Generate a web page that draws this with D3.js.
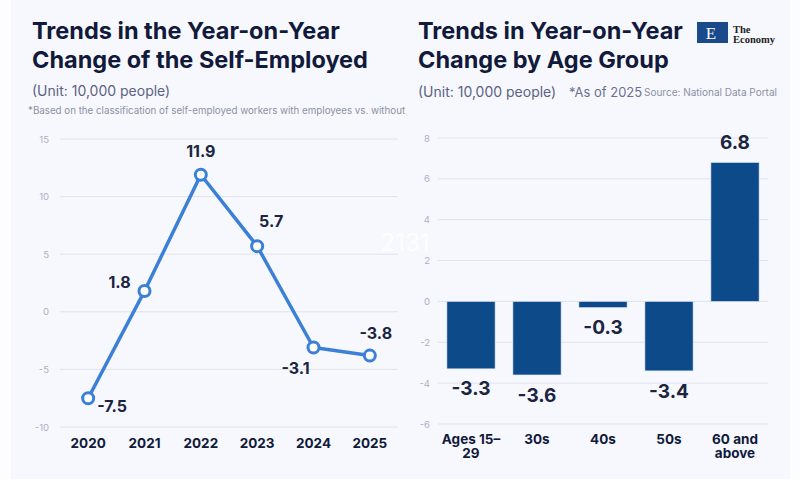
<!DOCTYPE html>
<html>
<head>
<meta charset="utf-8">
<script src="https://cdn.jsdelivr.net/npm/d3@7"></script>
<style>
  body { margin: 0; background: #fdfdff; }
  svg { display: block; font-family: Inter, "Noto Sans", sans-serif; }
</style>
</head>
<body>
<script>
var w = 800;
var h = 479;

// left chart data
var years = ["2020", "2021", "2022", "2023", "2024", "2025"];
var selfEmployed = [-7.5, 1.8, 11.9, 5.7, -3.1, -3.8];
var leftTicks = [-10, -5, 0, 5, 10, 15];
// label nudges (px) so they sit off the line
var lineLabelDx = [24, -25, 0, 14, -18, 6];
var lineLabelDy = [8, -9, -23, -25, 21, -22];

// right chart data
var ageGroups = ["Ages 15–|29", "30s", "40s", "50s", "60 and|above"];
var ageChange = [-3.3, -3.6, -0.3, -3.4, 6.8];
var rightTicks = [-6, -4, -2, 0, 2, 4, 6, 8];

var navy = "#111a3a";
var tickColor = "#a9b1c7";
var gridColor = "#dfe3ee";

var svg = d3.select("body")
            .append("svg")
                .attr("width", w)
                .attr("height", h);

svg.append("rect")
    .attr("x", 11).attr("y", 0)
    .attr("width", 779).attr("height", h)
    .attr("fill", "#f7f8fd");

// ---- titles ----
function addText(x, y, txt, size, weight, color, anchor) {
    return svg.append("text")
        .attr("x", x).attr("y", y)
        .attr("font-size", size)
        .attr("font-weight", weight)
        .attr("fill", color)
        .attr("text-anchor", anchor || "start")
        .text(txt);
}

addText(32, 39, "Trends in the Year-on-Year", 23.5, 700, navy);
addText(32, 68, "Change of the Self-Employed", 23.5, 700, navy);
addText(32, 96, "(Unit: 10,000 people)", 14, 400, "#5b6283");
addText(28, 114, "*Based on the classification of self-employed workers with employees vs. without", 9.75, 400, "#8b90a4");

addText(418, 39, "Trends in Year-on-Year", 23.5, 700, navy);
addText(418, 68, "Change by Age Group", 23.5, 700, navy);
addText(418, 97, "(Unit: 10,000 people)", 14, 400, "#5b6283");
addText(569, 97, "*As of 2025", 13, 400, "#6a7090");
addText(644, 96, "Source: National Data Portal", 10, 400, "#8b90a4");

// logo
svg.append("rect")
    .attr("x", 697).attr("y", 22)
    .attr("width", 31).attr("height", 21)
    .attr("fill", "#1a4a8c");
svg.append("text")
    .attr("x", 711).attr("y", 39)
    .attr("text-anchor", "middle")
    .attr("font-family", "Liberation Serif, serif")
    .attr("font-size", 17)
    .attr("fill", "#ffffff")
    .text("E");
svg.append("text")
    .attr("x", 733).attr("y", 33)
    .attr("font-family", "Liberation Serif, serif")
    .attr("font-size", 10.5).attr("font-weight", 700)
    .attr("fill", "#222")
    .text("The");
svg.append("text")
    .attr("x", 733).attr("y", 43)
    .attr("font-family", "Liberation Serif, serif")
    .attr("font-size", 10.5).attr("font-weight", 700)
    .attr("fill", "#222")
    .text("Economy");

// ---- left: line chart ----
var xL = d3.scaleBand().domain(years).range([60, 398]);
var yL = d3.scaleLinear().domain([-10, 15]).range([427, 139]);

var gL = svg.append("g");

gL.selectAll("line.grid")
    .data(leftTicks)
    .enter()
    .append("line")
        .attr("x1", 60).attr("x2", 398)
        .attr("y1", function(d) {return yL(d);})
        .attr("y2", function(d) {return yL(d);})
        .attr("stroke", gridColor)
        .attr("stroke-width", 1);

gL.selectAll("text.tick")
    .data(leftTicks)
    .enter()
    .append("text")
        .attr("x", 49)
        .attr("y", function(d) {return yL(d) + 3.5;})
        .attr("text-anchor", "end")
        .attr("font-size", 9.5)
        .attr("fill", tickColor)
        .text(function(d) {return d;});

gL.selectAll("text.year")
    .data(years)
    .enter()
    .append("text")
        .attr("x", function(d) {return xL(d) + xL.bandwidth() / 2;})
        .attr("y", 448)
        .attr("text-anchor", "middle")
        .attr("font-size", 13.5)
        .attr("font-weight", 700)
        .attr("fill", navy)
        .text(function(d) {return d;});

var line = d3.line()
    .x(function(d, i) {return xL(years[i]) + xL.bandwidth() / 2;})
    .y(function(d) {return yL(d);});

gL.append("path")
    .datum(selfEmployed)
    .attr("d", line)
    .attr("fill", "none")
    .attr("stroke", "#3b80d6")
    .attr("stroke-width", 3.5)
    .attr("stroke-linejoin", "round");

gL.selectAll("circle")
    .data(selfEmployed)
    .enter()
    .append("circle")
        .attr("cx", function(d, i) {return xL(years[i]) + xL.bandwidth() / 2;})
        .attr("cy", function(d) {return yL(d);})
        .attr("r", 5.5)
        .attr("fill", "#ffffff")
        .attr("stroke", "#3b80d6")
        .attr("stroke-width", 3);

gL.selectAll("text.val")
    .data(selfEmployed)
    .enter()
    .append("text")
        .attr("x", function(d, i) {return xL(years[i]) + xL.bandwidth() / 2 + lineLabelDx[i];})
        .attr("y", function(d, i) {return yL(d) + lineLabelDy[i];})
        .attr("dy", "0.35em")
        .attr("text-anchor", "middle")
        .attr("font-size", 16)
        .attr("font-weight", 700)
        .attr("fill", "#1c2540")
        .text(function(d) {return d.toFixed(1);});

// watermark
svg.append("text")
    .attr("x", 405).attr("y", 251)
    .attr("text-anchor", "middle")
    .attr("font-size", 24)
    .attr("fill", "#ffffff")
    .attr("fill-opacity", 0.85)
    .text("2131");

// ---- right: bar chart ----
var xR = d3.scaleBand().domain(ageGroups).range([438, 768]).paddingInner(0.27).paddingOuter(0.135);
var yR = d3.scaleLinear().domain([-6, 8]).range([424, 138]);

var gR = svg.append("g");

gR.selectAll("line.grid")
    .data(rightTicks)
    .enter()
    .append("line")
        .attr("x1", 438).attr("x2", 768)
        .attr("y1", function(d) {return yR(d);})
        .attr("y2", function(d) {return yR(d);})
        .attr("stroke", gridColor)
        .attr("stroke-width", 1);

gR.selectAll("text.tick")
    .data(rightTicks)
    .enter()
    .append("text")
        .attr("x", 430)
        .attr("y", function(d) {return yR(d) + 3.5;})
        .attr("text-anchor", "end")
        .attr("font-size", 9.5)
        .attr("fill", tickColor)
        .text(function(d) {return d;});

gR.selectAll("rect")
    .data(ageChange)
    .enter()
    .append("rect")
        .attr("x", function(d, i) {return xR(ageGroups[i]);})
        .attr("y", function(d) {return yR(Math.max(0, d));})
        .attr("width", xR.bandwidth())
        .attr("height", function(d) {return Math.abs(yR(d) - yR(0));})
        .attr("fill", "#0d4a8a")
        .attr("stroke", "#dbe4f2")
        .attr("stroke-width", 0.6);

gR.selectAll("text.val")
    .data(ageChange)
    .enter()
    .append("text")
        .attr("x", function(d, i) {return xR(ageGroups[i]) + xR.bandwidth() / 2;})
        .attr("y", function(d) {return d < 0 ? yR(d) + 20 : yR(d) - 20;})
        .attr("dy", "0.35em")
        .attr("text-anchor", "middle")
        .attr("font-size", 19)
        .attr("font-weight", 700)
        .attr("fill", "#1c2540")
        .text(function(d) {return d.toFixed(1);});

var catLabels = gR.selectAll("text.cat")
    .data(ageGroups)
    .enter()
    .append("text")
        .attr("x", function(d) {return xR(d) + xR.bandwidth() / 2;})
        .attr("y", 444)
        .attr("text-anchor", "middle")
        .attr("font-size", 13.5)
        .attr("font-weight", 700)
        .attr("fill", navy);

catLabels.each(function(d) {
    var parts = d.split("|");
    var t = d3.select(this);
    parts.forEach(function(p, k) {
        t.append("tspan")
            .attr("x", t.attr("x"))
            .attr("dy", k === 0 ? 0 : 14)
            .text(p);
    });
});
</script>
</body>
</html>
